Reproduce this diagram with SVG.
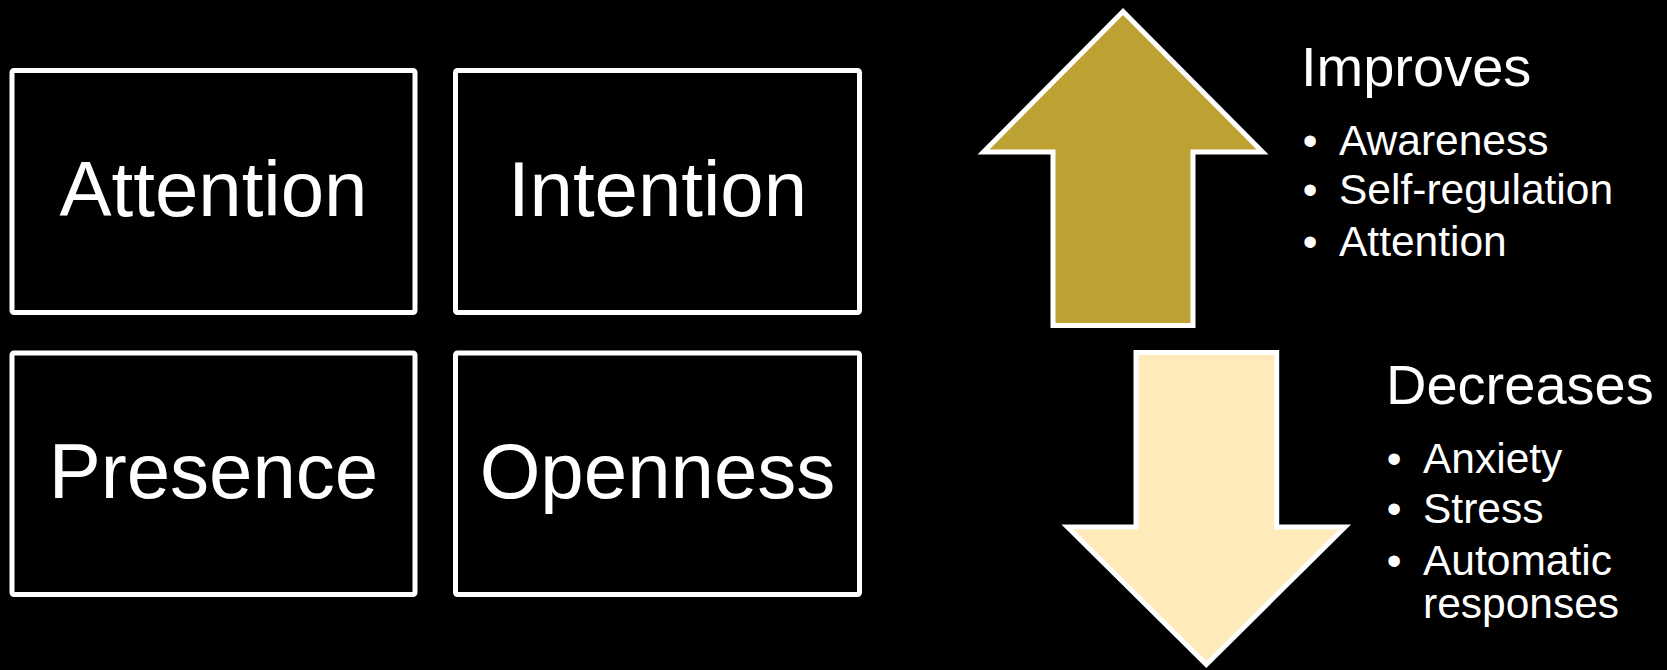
<svg xmlns="http://www.w3.org/2000/svg" width="1667" height="670" viewBox="0 0 1667 670">
  <style>
    .box { fill: #000000; stroke: #ffffff; stroke-width: 5; }
    .label { font-family: "Liberation Sans", Arial, sans-serif; fill: #ffffff; font-size: 78px; text-anchor: middle; }
    .head { font-family: "Liberation Sans", Arial, sans-serif; fill: #ffffff; font-size: 56px; }
    .item { font-family: "Liberation Sans", Arial, sans-serif; fill: #ffffff; font-size: 42.5px; }
    .dot { font-family: "Liberation Sans", Arial, sans-serif; fill: #ffffff; font-size: 42px; text-anchor: middle; }
    .arrow { stroke: #ffffff; stroke-width: 5; stroke-linejoin: miter; stroke-miterlimit: 10; }
  </style>
  <rect width="1667" height="670" fill="#000000"/>

  <!-- Four quality boxes -->
  <g id="attention">
    <rect class="box" x="12" y="70.5" width="403" height="242" rx="2"/>
    <text class="label" x="213.5" y="216">Attention</text>
  </g>
  <g id="intention">
    <rect class="box" x="455.5" y="70.5" width="404" height="242" rx="2"/>
    <text class="label" x="657.5" y="216">Intention</text>
  </g>
  <g id="presence">
    <rect class="box" x="12" y="353" width="403" height="241.5" rx="2"/>
    <text class="label" x="213.5" y="498">Presence</text>
  </g>
  <g id="openness">
    <rect class="box" x="455.5" y="353" width="404" height="241.5" rx="2"/>
    <text class="label" x="657.5" y="498">Openness</text>
  </g>

  <!-- Block arrows -->
  <g id="connectors">
    <path id="arrow-up" class="arrow" fill="#BDA133"
          d="M1123,11.5 L1262.5,152 L1193,152 L1193,325.5 L1053,325.5 L1053,152 L983.5,152 Z"/>
    <path id="arrow-down" class="arrow" fill="#FFEBBA"
          d="M1136,352.5 L1276.7,352.5 L1276.7,527 L1345,527 L1206.3,664.5 L1067.5,527 L1136,527 Z"/>
  </g>

  <!-- Improves list -->
  <g id="improves">
    <text class="head" x="1301" y="86">Improves</text>
    <text class="dot" x="1310" y="155">•</text>
    <text class="item" x="1339" y="155">Awareness</text>
    <text class="dot" x="1310" y="204">•</text>
    <text class="item" x="1339" y="204">Self-regulation</text>
    <text class="dot" x="1310" y="256">•</text>
    <text class="item" x="1339" y="256">Attention</text>
  </g>

  <!-- Decreases list -->
  <g id="decreases">
    <text class="head" x="1386" y="404">Decreases</text>
    <text class="dot" x="1394" y="473">•</text>
    <text class="item" x="1423" y="473">Anxiety</text>
    <text class="dot" x="1394" y="523">•</text>
    <text class="item" x="1423" y="523">Stress</text>
    <text class="dot" x="1394" y="575">•</text>
    <text class="item" x="1423" y="575">Automatic</text>
    <text class="item" x="1423" y="618">responses</text>
  </g>
</svg>
